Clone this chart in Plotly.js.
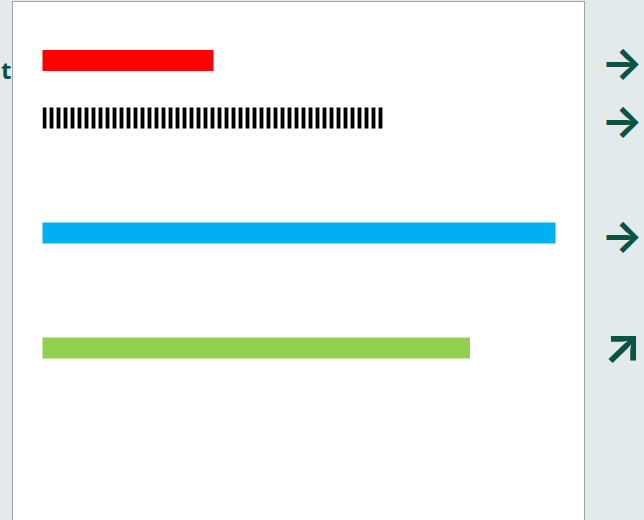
<!DOCTYPE html>
<html>
<head>
<meta charset="utf-8">
<script src="https://cdn.plot.ly/plotly-3.0.1.min.js"></script>
<style>
  html, body { margin: 0; padding: 0; overflow: hidden; background: #e3eaec; }
  #chart { width: 644px; height: 577px; }
</style>
</head>
<body>
<div id="chart"></div>
<script>
// Row order on the category axis (spacers are empty rows)
const rowOrder = ['Actual', 'Target', 'spacer1', 'Forecast', 'spacer2', 'Plan'];

// Solid bars
const solidCategories = ['Actual', 'Forecast', 'Plan'];
const solidValues = [20, 60, 50];
const solidColors = ['#ff0000', '#00b0f0', '#92d050'];

// Striped (patterned) bar
const stripedCategories = ['Target'];
const stripedValues = [40];

// Trend arrows shown to the right of each row
const trendCategories = ['Actual', 'Target', 'Forecast', 'Plan'];
const trendArrows = ['→', '→', '→', '↗'];

const traces = [
  {
    type: 'bar',
    orientation: 'h',
    y: solidCategories,
    x: solidValues,
    width: 0.365,
    marker: { color: solidColors, line: { width: 0 } },
    hoverinfo: 'none',
    showlegend: false
  },
  {
    type: 'bar',
    orientation: 'h',
    y: stripedCategories,
    x: stripedValues,
    width: 0.365,
    marker: {
      color: '#000000',
      line: { width: 0 },
      pattern: { shape: '|', size: 7, solidity: 0.55, fgcolor: '#000000', bgcolor: '#ffffff', fillmode: 'replace' }
    },
    hoverinfo: 'none',
    showlegend: false
  }
];

const annotations = trendCategories.map((c, i) => {
  const diag = trendArrows[i] === '↗';
  return {
    xref: 'paper', yref: 'y',
    x: 1.0666, y: c,
    yshift: diag ? 3 : -2,
    text: '<b>' + trendArrows[i] + '</b>',
    showarrow: false,
    xanchor: 'center', yanchor: 'middle',
    font: { family: 'Inter', size: diag ? 50 : 44, color: '#0b5345' }
  };
});

annotations.push({
  xref: 'paper', yref: 'y',
  x: -0.0245, y: 'Actual',
  yshift: -9,
  text: '<b>t</b>',
  showarrow: false,
  xanchor: 'left', yanchor: 'middle',
  font: { family: 'Open Sans', size: 24, color: '#0b5345' }
});

const layout = {
  width: 644,
  height: 577,
  margin: { l: 13, r: 60, t: 2, b: 0, pad: 0 },
  paper_bgcolor: '#e3eaec',
  plot_bgcolor: '#ffffff',
  barmode: 'overlay',
  xaxis: {
    range: [-3.45, 63.33],
    showgrid: false, zeroline: false, showticklabels: false, ticks: '',
    showline: true, mirror: true, linecolor: '#a3a3a3', linewidth: 1
  },
  yaxis: {
    type: 'category',
    categoryorder: 'array',
    categoryarray: rowOrder,
    range: [8.983, -1.017],
    showgrid: false, zeroline: false, showticklabels: false, ticks: '',
    showline: true, mirror: true, linecolor: '#a3a3a3', linewidth: 1
  },
  annotations: annotations
};

Plotly.newPlot('chart', traces, layout, { displayModeBar: false, staticPlot: true });
</script>
</body>
</html>
